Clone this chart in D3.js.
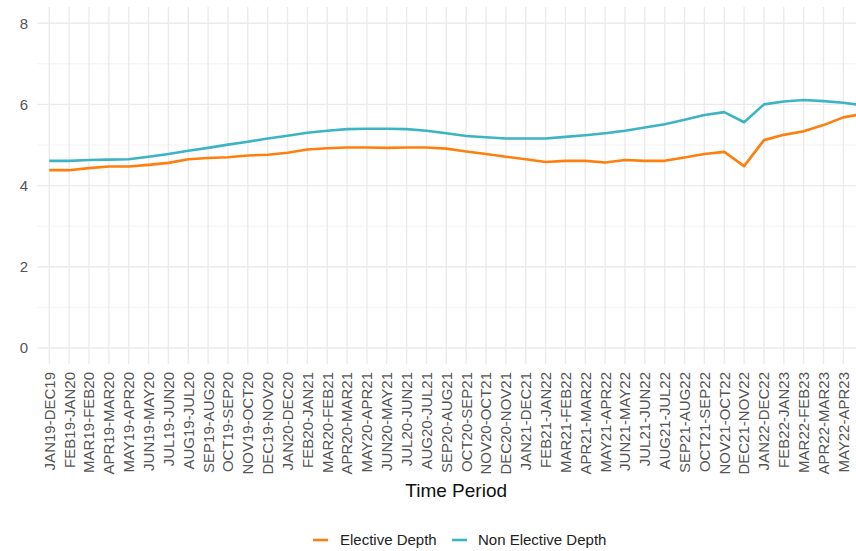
<!DOCTYPE html>
<html>
<head>
<meta charset="utf-8">
<script src="https://cdn.jsdelivr.net/npm/d3@7"></script>
<style>
  html, body { margin: 0; padding: 0; background: #fff; }
  svg { display: block; font-family: "Liberation Sans", Arial, sans-serif; }
</style>
</head>
<body>
<svg id="chart" width="856" height="551"></svg>
<script>
// Rolling 12-month periods
const periods = [
  "JAN19-DEC19","FEB19-JAN20","MAR19-FEB20","APR19-MAR20","MAY19-APR20","JUN19-MAY20",
  "JUL19-JUN20","AUG19-JUL20","SEP19-AUG20","OCT19-SEP20","NOV19-OCT20","DEC19-NOV20",
  "JAN20-DEC20","FEB20-JAN21","MAR20-FEB21","APR20-MAR21","MAY20-APR21","JUN20-MAY21",
  "JUL20-JUN21","AUG20-JUL21","SEP20-AUG21","OCT20-SEP21","NOV20-OCT21","DEC20-NOV21",
  "JAN21-DEC21","FEB21-JAN22","MAR21-FEB22","APR21-MAR22","MAY21-APR22","JUN21-MAY22",
  "JUL21-JUN22","AUG21-JUL22","SEP21-AUG22","OCT21-SEP22","NOV21-OCT22","DEC21-NOV22",
  "JAN22-DEC22","FEB22-JAN23","MAR22-FEB23","APR22-MAR23","MAY22-APR23","JUN22-MAY23"
];

const electiveDepth = [
  4.38, 4.38, 4.43, 4.47, 4.47, 4.51, 4.56, 4.65, 4.68, 4.70, 4.74, 4.76,
  4.81, 4.89, 4.92, 4.94, 4.94, 4.93, 4.94, 4.94, 4.91, 4.84, 4.78, 4.71,
  4.65, 4.58, 4.61, 4.61, 4.57, 4.63, 4.61, 4.61, 4.69, 4.78, 4.83, 4.48,
  5.12, 5.25, 5.34, 5.49, 5.68, 5.77
];

const nonElectiveDepth = [
  4.61, 4.61, 4.63, 4.64, 4.65, 4.71, 4.78, 4.86, 4.93, 5.01, 5.08, 5.16,
  5.23, 5.30, 5.35, 5.39, 5.40, 5.40, 5.39, 5.35, 5.29, 5.22, 5.19, 5.16,
  5.16, 5.16, 5.20, 5.24, 5.29, 5.35, 5.43, 5.51, 5.62, 5.74, 5.81, 5.56,
  6.00, 6.07, 6.11, 6.08, 6.04, 5.98
];

const yTicks = [0, 2, 4, 6, 8];
const yMinor = [1, 3, 5, 7];

const seriesNames = ["Elective Depth", "Non Elective Depth"];
const seriesColors = ["#ff7f0e", "#3db4c4"];

const svg = d3.select("#chart");

// Panel geometry
const panel = { left: 37.4, top: 7, bottom: 364, right: 875 };

const x = d3.scalePoint()
  .domain(periods)
  .range([49.3, 863.2])
  .padding(0);

const y = d3.scaleLinear()
  .domain([0, 8])
  .range([348, 23.2]);

const grid = svg.append("g");

// minor horizontal gridlines
grid.selectAll("line.minor")
  .data(yMinor)
  .join("line")
  .attr("x1", panel.left).attr("x2", panel.right)
  .attr("y1", d => y(d)).attr("y2", d => y(d))
  .attr("stroke", "#f1f1f1").attr("stroke-width", 0.9);

// major horizontal gridlines
grid.selectAll("line.hmajor")
  .data(yTicks)
  .join("line")
  .attr("x1", panel.left).attr("x2", panel.right)
  .attr("y1", d => y(d)).attr("y2", d => y(d))
  .attr("stroke", "#ebebeb").attr("stroke-width", 1.4);

// vertical gridlines
grid.selectAll("line.vmajor")
  .data(periods)
  .join("line")
  .attr("x1", d => x(d)).attr("x2", d => x(d))
  .attr("y1", panel.top).attr("y2", panel.bottom)
  .attr("stroke", "#ebebeb").attr("stroke-width", 1.4);

// y axis labels
svg.append("g")
  .selectAll("text")
  .data(yTicks)
  .join("text")
  .attr("x", 28)
  .attr("y", d => y(d))
  .attr("dy", "0.36em")
  .attr("text-anchor", "end")
  .attr("font-size", 15)
  .attr("fill", "#555")
  .text(d => d);

// x axis labels (rotated)
svg.append("g")
  .selectAll("text")
  .data(periods)
  .join("text")
  .attr("transform", d => `translate(${x(d)},372) rotate(-90)`)
  .attr("dy", "0.36em")
  .attr("text-anchor", "end")
  .attr("font-size", 15)
  .attr("fill", "#555")
  .text(d => d);

// axis title
svg.append("text")
  .attr("x", (panel.left + panel.right) / 2)
  .attr("y", 497)
  .attr("text-anchor", "middle")
  .attr("font-size", 19)
  .attr("fill", "#111")
  .text("Time Period");

// lines
const line = d3.line()
  .x((d, i) => x(periods[i]))
  .y(d => y(d));

[electiveDepth, nonElectiveDepth].forEach((vals, k) => {
  svg.append("path")
    .datum(vals)
    .attr("d", line)
    .attr("fill", "none")
    .attr("stroke", seriesColors[k])
    .attr("stroke-width", 2.6)
    .attr("stroke-linejoin", "round");
});

// legend
const legendItems = [
  { name: seriesNames[0], color: seriesColors[0], kx: 313, tx: 340 },
  { name: seriesNames[1], color: seriesColors[1], kx: 452, tx: 478 }
];
const lg = svg.append("g");
legendItems.forEach(it => {
  lg.append("line")
    .attr("x1", it.kx).attr("x2", it.kx + 15)
    .attr("y1", 540).attr("y2", 540)
    .attr("stroke", it.color).attr("stroke-width", 2.6);
  lg.append("text")
    .attr("x", it.tx).attr("y", 545)
    .attr("font-size", 15)
    .attr("fill", "#222")
    .text(it.name);
});
</script>
</body>
</html>
